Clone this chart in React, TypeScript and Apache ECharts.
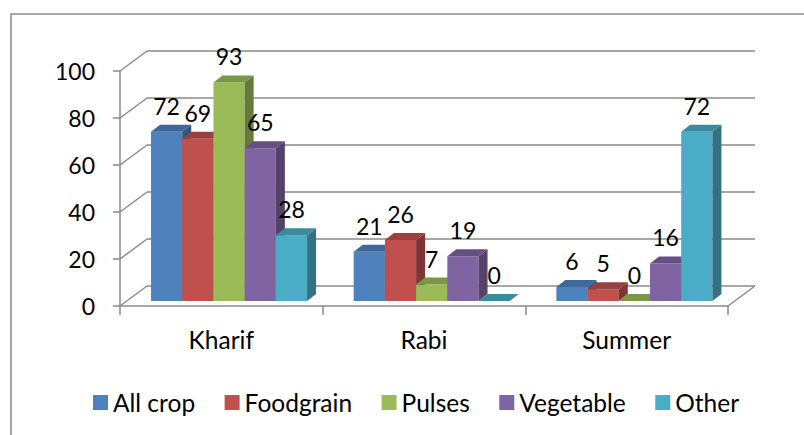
import React, { useEffect, useRef } from "react";
import * as echarts from "echarts";

const categories = ["Kharif", "Rabi", "Summer"];
const seriesNames = ["All crop", "Foodgrain", "Pulses", "Vegetable", "Other"];
const allCrop = [72, 21, 6];
const foodgrain = [69, 26, 5];
const pulses = [93, 7, 0];
const vegetable = [65, 19, 16];
const other = [28, 0, 72];
const seriesValues = [allCrop, foodgrain, pulses, vegetable, other];
const yTicks = [0, 20, 40, 60, 80, 100];
const colors = ["#4F81BD", "#C0504D", "#9BBB59", "#8064A2", "#4BACC6"];

const FONT_FAMILY = "Lato, 'Open Sans', sans-serif";
const FONT_SIZE = 23;
const TEXT_SIZE = 24.5;
const GRID_COLOR = "#8a8a8a";
const DEPTH_X = 27;
const DEPTH_Y = -20;
const BAR_OFF_X = 6.5;
const BAR_OFF_Y = -5;
const BAR_D_X = 9;
const BAR_D_Y = -7;
const GAP_FRAC = 0.121;
const BAR_FRAC = 0.154;
const LABEL_ABOVE = 26;

function shade(hex: string, f: number): string {
  const n = parseInt(hex.slice(1), 16);
  const r = (n >> 16) & 255;
  const g = (n >> 8) & 255;
  const b = n & 255;
  return `rgb(${Math.round(r * f)},${Math.round(g * f)},${Math.round(b * f)})`;
}

function barGeom(api: any, ci: number, si: number, v: number) {
  const base = api.coord([ci, 0]);
  const top = api.coord([ci, v]);
  const band = api.size([1, 0])[0];
  const bw = band * BAR_FRAC;
  const x0 = base[0] - band / 2 + BAR_OFF_X + band * GAP_FRAC + si * bw;
  return { x0, x1: x0 + bw, bw, yb: base[1] + BAR_OFF_Y, yt: top[1] + BAR_OFF_Y };
}

export default function App() {
  const ref = useRef<HTMLDivElement>(null);

  useEffect(() => {
    if (!ref.current) return;
    const chart = echarts.init(ref.current, undefined, { renderer: "svg" });

    const wallSeries: any = {
      type: "custom",
      coordinateSystem: "cartesian2d",
      silent: true,
      z: 1,
      data: [[0, 0]],
      renderItem: (params: any, api: any) => {
        const cs = params.coordSys;
        const gx = cs.x;
        const gr = cs.x + cs.width;
        const children: any[] = [];
        const lineStyle = { stroke: GRID_COLOR, lineWidth: 1.5 };
        yTicks.forEach((t) => {
          const y = api.coord([0, t])[1];
          children.push({
            type: "line",
            shape: { x1: gx, y1: y, x2: gx + DEPTH_X, y2: y + DEPTH_Y },
            style: lineStyle,
          });
          children.push({
            type: "line",
            shape: { x1: gx + DEPTH_X, y1: y + DEPTH_Y, x2: gr + DEPTH_X, y2: y + DEPTH_Y },
            style: lineStyle,
          });
        });
        const y0 = api.coord([0, 0])[1];
        children.push({
          type: "line",
          shape: { x1: gr, y1: y0, x2: gr + DEPTH_X, y2: y0 + DEPTH_Y },
          style: lineStyle,
        });
        return { type: "group", children };
      },
    };

    const barSeries: any[] = seriesNames.map((name, si) => ({
      type: "custom",
      name,
      coordinateSystem: "cartesian2d",
      silent: true,
      z: 2,
      itemStyle: { color: colors[si] },
      encode: { x: 0, y: 1 },
      data: seriesValues[si].map((v, ci) => [ci, v]),
      renderItem: (params: any, api: any) => {
        const ci = api.value(0);
        const v = api.value(1);
        const g = barGeom(api, ci, si, v);
        const c = colors[si];
        return {
          type: "group",
          children: [
            {
              type: "rect",
              shape: { x: g.x0, y: g.yt, width: g.bw, height: g.yb - g.yt },
              style: { fill: c },
            },
            {
              type: "polygon",
              shape: {
                points: [
                  [g.x1, g.yt],
                  [g.x1 + BAR_D_X, g.yt + BAR_D_Y],
                  [g.x1 + BAR_D_X, g.yb + BAR_D_Y],
                  [g.x1, g.yb],
                ],
              },
              style: { fill: shade(c, 0.66) },
            },
            {
              type: "polygon",
              shape: {
                points: [
                  [g.x0, g.yt],
                  [g.x1, g.yt],
                  [g.x1 + BAR_D_X, g.yt + BAR_D_Y],
                  [g.x0 + BAR_D_X, g.yt + BAR_D_Y],
                ],
              },
              style: { fill: shade(c, 0.8) },
            },
          ],
        };
      },
    }));

    const labelData: number[][] = [];
    seriesValues.forEach((vals, si) => vals.forEach((v, ci) => labelData.push([ci, v, si])));

    const labelSeries: any = {
      type: "custom",
      coordinateSystem: "cartesian2d",
      silent: true,
      z: 5,
      encode: { x: 0, y: 1 },
      data: labelData,
      renderItem: (params: any, api: any) => {
        const ci = api.value(0);
        const v = api.value(1);
        const si = api.value(2);
        const g = barGeom(api, ci, si, v);
        return {
          type: "text",
          x: (g.x0 + g.x1) / 2,
          y: g.yt - LABEL_ABOVE,
          style: {
            text: String(v),
            fill: "#000",
            font: `${FONT_SIZE}px ${FONT_FAMILY}`,
            align: "center",
            verticalAlign: "middle",
          },
        };
      },
    };

    chart.setOption({
      animation: false,
      backgroundColor: "#ffffff",
      textStyle: { fontFamily: FONT_FAMILY },
      graphic: [
        {
          type: "rect",
          silent: true,
          shape: { x: 11, y: 14, width: 900, height: 500 },
          style: { fill: "none", stroke: GRID_COLOR, lineWidth: 1.5 },
        },
      ],
      grid: { left: 120, right: 76, top: 71, bottom: 129 },
      xAxis: {
        type: "category",
        data: categories,
        boundaryGap: true,
        axisLine: { show: true, lineStyle: { color: GRID_COLOR, width: 1.5 } },
        axisTick: { show: true, length: 9, lineStyle: { color: GRID_COLOR, width: 1.5 } },
        axisLabel: { color: "#000", fontSize: TEXT_SIZE, fontFamily: FONT_FAMILY, margin: 21 },
        splitLine: { show: false },
      },
      yAxis: {
        type: "value",
        min: 0,
        max: 100,
        interval: 20,
        axisLine: { show: true, lineStyle: { color: GRID_COLOR, width: 1.5 } },
        axisTick: { show: true, length: 7, lineStyle: { color: GRID_COLOR, width: 1.5 } },
        axisLabel: { color: "#000", fontSize: FONT_SIZE, fontFamily: FONT_FAMILY, margin: 25 },
        splitLine: { show: false },
      },
      legend: {
        data: seriesNames,
        left: 93,
        top: 389,
        padding: 0,
        itemWidth: 15,
        itemHeight: 15,
        itemGap: 29.5,
        icon: "rect",
        textStyle: { color: "#000", fontSize: TEXT_SIZE, fontFamily: FONT_FAMILY, lineHeight: 27 },
      },
      series: [wallSeries, ...barSeries, labelSeries],
    });

    return () => chart.dispose();
  }, []);

  return (
    <div
      ref={ref}
      style={{ position: "absolute", left: 0, top: 0, width: 804, height: 435 }}
    />
  );
}
